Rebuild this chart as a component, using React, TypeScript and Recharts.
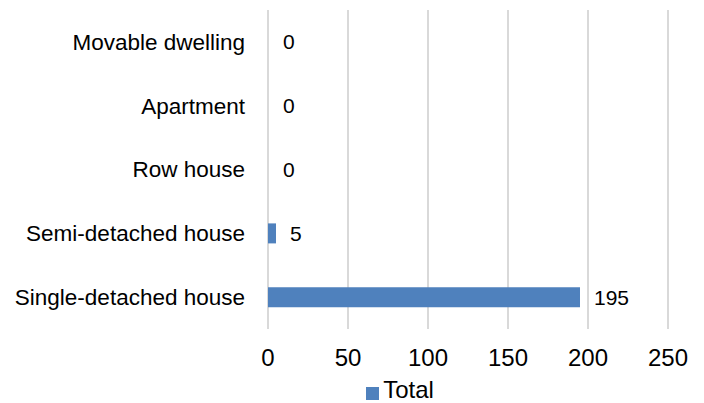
import React from "react";
import { BarChart, Bar, XAxis, YAxis, CartesianGrid, Legend, LabelList, Cell } from "recharts";

const categories = ["Movable dwelling", "Apartment", "Row house", "Semi-detached house", "Single-detached house"];
const totals = [0, 0, 0, 5, 195];
const xTicks = [0, 50, 100, 150, 200, 250];

const data = categories.map((name, i) => ({ name, Total: totals[i] }));

const FONT = "'Liberation Sans', Arial, sans-serif";
const BLUE = "#4f81bd";

export default function App() {
  return (
    <div style={{ position: "absolute", left: 0, top: 0, fontFamily: FONT }}>
      <BarChart
        width={704}
        height={403}
        data={data}
        layout="vertical"
        margin={{ top: 10, right: 36, left: 0, bottom: 0 }}
      >
        <CartesianGrid horizontal={false} stroke="#d9d9d9" strokeWidth={2} />
        <XAxis
          type="number"
          domain={[0, 250]}
          ticks={xTicks}
          axisLine={false}
          tickLine={false}
          height={44}
          tickMargin={14}
          tick={{ fill: "#000", fontSize: 24, fontFamily: FONT }}
          interval={0}
        />
        <YAxis
          type="category"
          dataKey="name"
          width={268}
          axisLine={false}
          tickLine={false}
          tickMargin={17}
          tick={{ fill: "#000", fontSize: 22.5, fontFamily: FONT }}
          interval={0}
        />
        <Legend
          verticalAlign="bottom"
          height={30}
          iconType="square"
          iconSize={13}
          wrapperStyle={{ left: 96, width: 618, bottom: -3 }}
          formatter={(v) => <span style={{ color: "#000", fontSize: 24, fontFamily: FONT }}>{v}</span>}
        />
        <Bar dataKey="Total" fill={BLUE} barSize={20} minPointSize={1} isAnimationActive={false}>
          {data.map((d, i) => (
            <Cell key={i} fill={d.Total === 0 ? "transparent" : BLUE} />
          ))}
          <LabelList dataKey="Total" position="right" offset={14} fill="#000" fontSize={21} fontFamily={FONT} />
        </Bar>
      </BarChart>
    </div>
  );
}
